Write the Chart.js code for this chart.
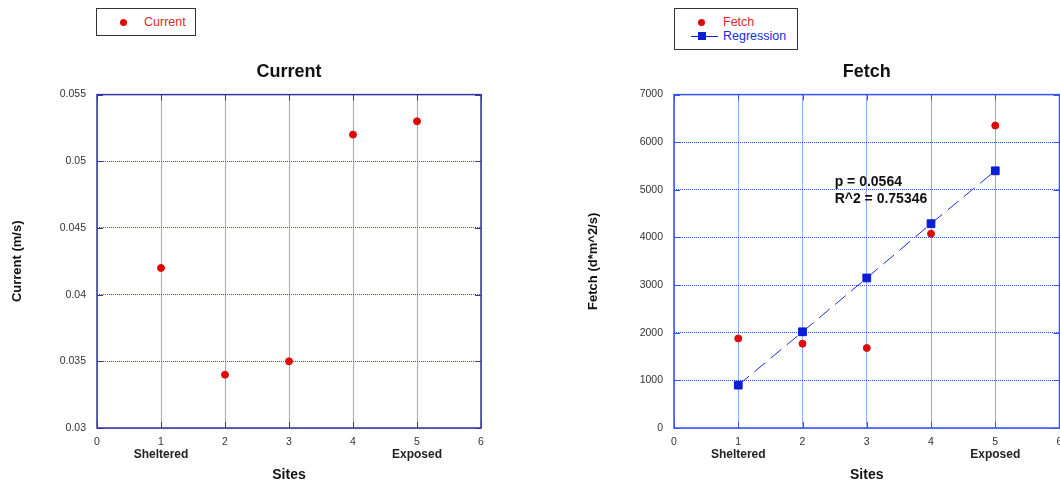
<!DOCTYPE html>
<html>
<head>
<meta charset="utf-8">
<script src="https://cdn.jsdelivr.net/npm/chart.js@4"></script>
<style>
  html, body { margin: 0; background: #fff; overflow: hidden; font-family: "Liberation Sans", Arial, sans-serif; }
  #wrap { position: relative; width: 1060px; height: 487px; overflow: hidden; }
  canvas { position: absolute; top: 0; }
  .legend { position: absolute; border: 1px solid #333; background: #fff; font-size: 12.5px; z-index: 2; }
  .row { position: absolute; left: 0; height: 14px; line-height: 14px; white-space: nowrap; }
  .dot { position: absolute; width: 7px; height: 7px; border-radius: 50%; background: #dd0a0a; }
  .sq { position: absolute; width: 8px; height: 8px; background: #0a1ed2; }
  .ln { position: absolute; height: 1px; background: #0a1ed2; }
</style>
</head>
<body>
<div id="wrap">
  <canvas id="currentChart" width="530" height="487" style="left:0"></canvas>
  <canvas id="fetchChart" width="536" height="487" style="left:530px"></canvas>

  <div class="legend" style="left:96px; top:8px; width:98px; height:26px;">
    <div class="row" style="top:6px; width:98px;">
      <span class="dot" style="left:23px; top:4px;"></span>
      <span style="position:absolute; left:47px; color:#e0282e;">Current</span>
    </div>
  </div>

  <div class="legend" style="left:674px; top:8px; width:122px; height:40px;">
    <div class="row" style="top:6px; width:122px;">
      <span class="dot" style="left:23px; top:4px;"></span>
      <span style="position:absolute; left:48px; color:#e0282e;">Fetch</span>
    </div>
    <div class="row" style="top:20px; width:122px;">
      <span class="ln" style="left:16px; top:7px; width:27px;"></span>
      <span class="sq" style="left:23px; top:3px;"></span>
      <span style="position:absolute; left:48px; color:#1a2be0;">Regression</span>
    </div>
  </div>
</div>

<script>
// sites along the x axis
const sites = [1, 2, 3, 4, 5];
const siteNames = { 1: 'Sheltered', 5: 'Exposed' };
const xTicks = [0, 1, 2, 3, 4, 5, 6];

// current (m/s)
const currentValues = [0.042, 0.034, 0.035, 0.052, 0.053];
const currentTicks = [0.03, 0.035, 0.04, 0.045, 0.05, 0.055];

// fetch (d*m^2/s) and the regression line
const fetchValues = [1880, 1770, 1680, 4080, 6350];
const regressionValues = [900, 2020, 3150, 4290, 5400];
const fetchTicks = [0, 1000, 2000, 3000, 4000, 5000, 6000, 7000];

// stats text
const statsText = ['p = 0.0564', 'R^2 = 0.75346'];
const statsX = 2.5;
const statsY = [5170, 4810];

const FONT = '"Liberation Sans", Arial, sans-serif';

function points(ys) {
  return sites.map((x, i) => ({ x: x, y: ys[i] }));
}

// box around the plot, inner tick marks, Sheltered / Exposed labels
const framePlugin = {
  id: 'frame',
  beforeDatasetsDraw(chart, args, opts) {
    const a = chart.chartArea, ctx = chart.ctx;
    const xs = chart.scales.x, ys = chart.scales.y;
    ctx.save();
    ctx.setLineDash([]);
    ctx.strokeStyle = opts.color;
    ctx.lineWidth = 1;
    ctx.beginPath();
    xs.ticks.forEach(t => {
      const px = Math.round(xs.getPixelForValue(t.value)) + 0.5;
      ctx.moveTo(px, a.bottom); ctx.lineTo(px, a.bottom - 6);
      ctx.moveTo(px, a.top); ctx.lineTo(px, a.top + 6);
    });
    ys.ticks.forEach(t => {
      const py = Math.round(ys.getPixelForValue(t.value)) + 0.5;
      ctx.moveTo(a.left, py); ctx.lineTo(a.left + 6, py);
      ctx.moveTo(a.right, py); ctx.lineTo(a.right - 6, py);
    });
    ctx.stroke();
    ctx.lineWidth = 1.5;
    ctx.strokeRect(a.left, a.top, a.right - a.left, a.bottom - a.top);
    ctx.restore();
  },
  afterDraw(chart) {
    const ctx = chart.ctx, xs = chart.scales.x;
    ctx.save();
    ctx.font = 'bold 12px ' + FONT;
    ctx.fillStyle = '#222';
    ctx.textAlign = 'center';
    ctx.textBaseline = 'middle';
    Object.keys(siteNames).forEach(k => {
      ctx.fillText(siteNames[k], xs.getPixelForValue(+k), xs.top + 27);
    });
    ctx.restore();
  }
};

const statsPlugin = {
  id: 'stats',
  afterDatasetsDraw(chart) {
    if (chart.canvas.id !== 'fetchChart') return;
    const ctx = chart.ctx, xs = chart.scales.x, ys = chart.scales.y;
    ctx.save();
    ctx.font = 'bold 14px ' + FONT;
    ctx.fillStyle = '#111';
    ctx.textAlign = 'left';
    ctx.textBaseline = 'middle';
    statsText.forEach((t, i) => ctx.fillText(t, xs.getPixelForValue(statsX), ys.getPixelForValue(statsY[i])));
    ctx.restore();
  }
};

function makeOptions(cfg) {
  return {
    responsive: false,
    animation: false,
    layout: { padding: { left: 0, right: cfg.padRight, top: 0, bottom: 0 } },
    plugins: {
      legend: { display: false },
      tooltip: { enabled: false },
      title: {
        display: true,
        text: cfg.title,
        fullSize: false,
        color: '#111',
        font: { family: FONT, size: 18, weight: 'bold' },
        padding: { top: 61, bottom: 12 }
      },
      frame: { color: cfg.frame }
    },
    scales: {
      x: {
        type: 'linear',
        min: 0, max: 6,
        afterBuildTicks: s => { s.ticks = xTicks.map(v => ({ value: v })); },
        afterFit: s => { s.height = 59; s.paddingLeft = 0; s.paddingRight = 0; },
        ticks: { color: '#333', padding: 8, font: { family: FONT, size: 10.5 }, callback: v => String(v) },
        grid: { color: cfg.grid, lineWidth: 1, drawTicks: false },
        border: { display: false, dash: [1, 1] },
        title: {
          display: true, text: 'Sites', color: '#111',
          font: { family: FONT, size: 14, weight: 'bold' },
          padding: { top: 0, bottom: 3 }
        }
      },
      y: {
        min: cfg.yTicks[0], max: cfg.yTicks[cfg.yTicks.length - 1],
        afterBuildTicks: s => { s.ticks = cfg.yTicks.map(v => ({ value: v })); },
        afterFit: s => { s.width = cfg.yWidth; },
        ticks: { color: '#333', padding: 11, font: { family: FONT, size: 10.5 }, callback: v => String(v) },
        grid: { color: cfg.grid, lineWidth: 1, drawTicks: false },
        border: { display: false, dash: [1, 1] },
        title: {
          display: true, text: cfg.yTitle, color: '#111',
          font: { family: FONT, size: 13, weight: 'bold' },
          padding: { top: cfg.yTitlePad, bottom: 0 }
        }
      }
    }
  };
}

new Chart(document.getElementById('currentChart'), {
  type: 'scatter',
  data: {
    datasets: [{
      label: 'Current',
      data: points(currentValues),
      backgroundColor: '#dd0a0a',
      borderColor: '#dd0a0a',
      pointRadius: 3.5
    }]
  },
  options: makeOptions({
    title: 'Current', yTitle: 'Current (m/s)', yTicks: currentTicks,
    yWidth: 97, padRight: 49, yTitlePad: 10,
    frame: '#3535a8', grid: '#4a4ac4'
  }),
  plugins: [framePlugin, statsPlugin]
});

new Chart(document.getElementById('fetchChart'), {
  type: 'scatter',
  data: {
    datasets: [{
      label: 'Fetch',
      data: points(fetchValues),
      backgroundColor: '#dd0a0a',
      borderColor: '#dd0a0a',
      pointRadius: 3.5
    }, {
      label: 'Regression',
      data: points(regressionValues),
      showLine: true,
      borderColor: '#1a2be0',
      borderWidth: 1,
      borderDash: [14, 7],
      backgroundColor: '#0a1ed2',
      pointBorderColor: '#0a1ed2',
      pointStyle: 'rect',
      pointRadius: 5.5
    }]
  },
  options: makeOptions({
    title: 'Fetch', yTitle: 'Fetch (d*m^2/s)', yTicks: fetchTicks,
    yWidth: 144, padRight: 1, yTitlePad: 56,
    frame: '#3355ee', grid: '#2e50ff'
  }),
  plugins: [framePlugin, statsPlugin]
});
</script>
</body>
</html>
